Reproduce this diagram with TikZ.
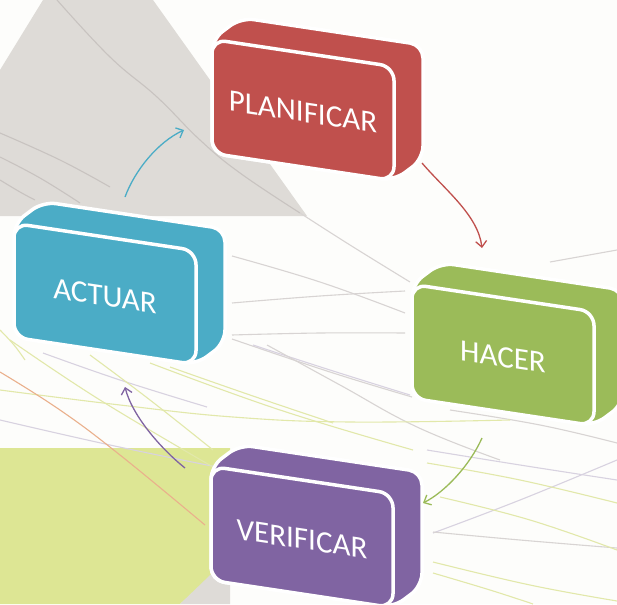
\documentclass[tikz,border=0pt]{standalone}
\usepackage{fontspec}
\setmainfont{Carlito}
\usetikzlibrary{arrows.meta}
\definecolor{bgc}{RGB}{253,253,251}
\definecolor{grayshape}{RGB}{222,219,215}
\definecolor{yelshape}{RGB}{221,230,148}
\definecolor{pred}{RGB}{192,80,77}
\definecolor{pgreen}{RGB}{155,187,89}
\definecolor{ppurple}{RGB}{128,100,162}
\definecolor{pcyan}{RGB}{75,172,198}
\definecolor{dgray}{RGB}{200,195,192}
\definecolor{lgray}{RGB}{216,212,211}
\definecolor{llav}{RGB}{216,210,224}
\definecolor{lyel}{RGB}{226,232,170}
\definecolor{lora}{RGB}{234,176,140}
\tikzset{
  bgline/.style={line width=1.1pt, smooth, tension=0.7},
  cyc/.style={line width=1.3pt, -{Straight Barb[length=6pt,width=11pt]}},
  boxback/.style={line width=3.5pt, draw=white, rounded corners=13pt, line join=round},
  boxfront/.style={line width=3.5pt, draw=white, rounded corners=14pt},
  boxtext/.style={text=white, font=\fontsize{31}{31}\selectfont, transform shape, inner sep=0pt},
}
\newcommand\pdcabox[5]{%
  \begin{scope}[shift={(#1,#2)}, yslant=-0.15]
    \filldraw[boxback, fill=#3] (-91,57) -- (-91,-57) -- (-62,-83) -- (120,-83) -- (120,31) -- (91,57) -- cycle;
    \filldraw[boxfront, fill=#3] (-91,-57) rectangle (91,57);
    \node[boxtext] (#4) at (0,2) {#5};
  \end{scope}}
\begin{document}
\begin{tikzpicture}[x=1pt,y=-1pt]
\useasboundingbox (0,0) rectangle (617,604);
\clip (0,0) rectangle (617,604);
\fill[bgc] (0,0) rectangle (617,604);
% background shapes
\fill[grayshape] (43,0) -- (153,0) -- (307,216) -- (0,216) -- (0,70) -- cycle;
\fill[yelshape] (0,448) -- (230,448) -- (230,560) -- (180,604) -- (0,604) -- cycle;
\fill[grayshape] (180,604) -- (230,556) -- (230,604) -- cycle;
% background lines
\draw[bgline, dgray] plot coordinates {(57,0) (110,57) (157,97) (200,140) (240,173) (300,213)};
\draw[bgline, lgray] plot coordinates {(300,213) (350,245) (410,282)};
\draw[bgline, dgray] plot coordinates {(0,133) (60,160) (110,187)};
\draw[bgline, dgray] plot coordinates {(0,157) (40,178) (80,203)};
\draw[bgline, dgray] plot coordinates {(0,180) (20,192) (35,200)};
\draw[bgline, lgray] plot coordinates {(232,256) (320,282) (405,313)};
\draw[bgline, lgray] plot coordinates {(232,303) (320,296) (405,291)};
\draw[bgline, lgray] plot coordinates {(232,335) (320,333) (405,333)};
\draw[bgline, lgray] plot coordinates {(232,339) (330,372) (412,397)};
\draw[bgline, llav] plot coordinates {(253,345) (330,370) (410,395)};
\draw[bgline, lgray] plot coordinates {(267,345) (340,385) (417,427) (500,460)};
\draw[bgline, lgray] plot coordinates {(550,262) (617,250)};
\draw[bgline, lgray] plot coordinates {(450,410) (540,425) (617,443)};
\draw[bgline, llav] plot coordinates {(427,450) (520,465) (617,480)};
\draw[bgline, llav] plot coordinates {(433,533) (520,500) (617,460)};
\draw[bgline, lgray] plot coordinates {(433,532) (520,540) (617,548)};
\draw[bgline, llav] plot coordinates {(0,420) (110,445) (217,467)};
\draw[bgline, llav] plot coordinates {(43,353) (120,380) (207,407)};
\draw[bgline, lyel] plot coordinates {(0,390) (120,405) (233,417) (350,422) (510,420)};
\draw[bgline, lyel] plot coordinates {(10,340) (100,400) (213,467)};
\draw[bgline, lyel] plot coordinates {(90,355) (150,400) (213,450)};
\draw[bgline, lyel] plot coordinates {(150,363) (280,410) (413,450)};
\draw[bgline, lyel] plot coordinates {(170,367) (250,395) (333,423)};
\draw[bgline, lyel] plot coordinates {(427,463) (520,480) (617,503)};
\draw[bgline, lyel] plot coordinates {(440,497) (530,520) (617,550)};
\draw[bgline, lyel] plot coordinates {(433,562) (530,585) (617,601)};
\draw[bgline, lyel] plot coordinates {(433,573) (490,590) (533,604)};
\draw[bgline, lyel] plot coordinates {(0,330) (14,345) (25,360)};
\draw[bgline, lora] plot coordinates {(0,372) (60,410) (120,455) (205,525)};
% boxes
\pdcabox{303}{110}{pred}{plan}{PLANIFICAR}
\pdcabox{105}{294}{pcyan}{act}{ACTUAR}
\pdcabox{503}{355}{pgreen}{hac}{HACER}
\pdcabox{302}{537}{ppurple}{ver}{VERIFICAR}
% arrows
\coordinate (c1) at (125,197); \coordinate (c2) at (184,130);
\coordinate (r1) at (422,163); \coordinate (r2) at (482,248);
\coordinate (g1) at (482,438); \coordinate (g2) at (423,503);
\coordinate (p1) at (185,468); \coordinate (p2) at (125,387);
\draw[cyc, pcyan] (c1) .. controls (135,170) and (158,142) .. (c2);
\draw[cyc, pred] (r1) .. controls (445,190) and (478,215) .. (r2);
\draw[cyc, pgreen] (g1) .. controls (470,465) and (445,492) .. (g2);
\draw[cyc, ppurple] (p1) .. controls (160,448) and (132,415) .. (p2);
\end{tikzpicture}
\end{document}
